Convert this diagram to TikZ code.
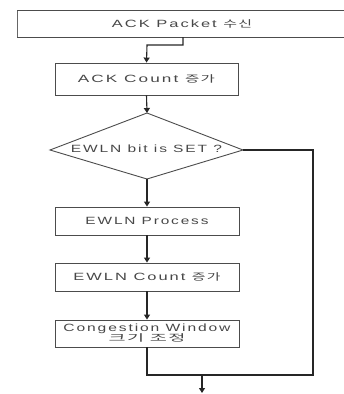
\documentclass[tikz,border=0pt]{standalone}
\usepackage{fontspec}
\usepackage{graphicx}
\setmainfont{Liberation Sans}[LetterSpace=12]
\newfontfamily\kr{Noto Sans CJK KR}[LetterSpace=8]
\newcommand\krtxt[1]{{\kr\fontsize{9.5}{11}\selectfont #1}}
\newcommand\fitw[2]{\resizebox{#1}{\height}{#2}}
\usetikzlibrary{arrows.meta}
\begin{document}
\begin{tikzpicture}[x=1pt, y=-1pt,
  every node/.style={font=\fontsize{10.5}{12}\selectfont, text=black!72},
  boxnode/.style={draw=black!70, line width=0.9pt, inner sep=0pt},
  flow/.style={draw=black!85, line width=1.1pt},
  arr/.style={flow, -{Triangle[length=5pt, width=6pt]}}]
  \useasboundingbox (0,0) rectangle (344,394);

  % top box, running past the right edge
  \draw[black!70, line width=0.9pt] (360,10) -- (17,10) -- (17,37) -- (360,37);
  \draw[black!60, line width=1.6pt] (17.6,10.5) -- (17.6,36.5);
  \node (recv) at (182,24) {\fitw{140pt}{ACK Packet \krtxt{수신}}};
  \coordinate (recvout) at (183,37);

  % process boxes
  \node[boxnode, minimum width=183pt, minimum height=32pt] (ackcnt) at (146.5,79)
    {\fitw{137pt}{ACK Count \krtxt{증가}}};
  \node[boxnode, minimum width=184pt, minimum height=28pt] (proc) at (147,221)
    {\fitw{123pt}{EWLN Process}};
  \node[boxnode, minimum width=184pt, minimum height=28pt] (ewcnt) at (147,277)
    {\fitw{147pt}{EWLN Count \krtxt{증가}}};
  \node[boxnode, minimum width=184pt, minimum height=27pt, align=center] (cwnd) at (147,333.5)
    {\fitw{167pt}{Congestion Window}\\[-2pt]\fitw{77pt}{\krtxt{크기 조정}}};

  % decision
  \coordinate (dtop) at (147,113);
  \coordinate (dbot) at (147,179);
  \coordinate (dleft) at (50,150);
  \coordinate (dright) at (243,150);
  \draw[black!70, line width=0.9pt] (dtop) -- (dright) -- (dbot) -- (dleft) -- cycle;
  \node (dec) at (146.5,149) {\fitw{151pt}{EWLN bit is SET ?}};

  % connectors
  \coordinate (bend1) at (183,45);
  \coordinate (bend2) at (147,45);
  \draw[arr] (recvout) -- (bend1) -- (bend2) -- (ackcnt.north);
  \draw[arr] (ackcnt.south) -- (dtop);
  \draw[arr] (dbot) -- (proc.north);
  \draw[arr] (proc.south) -- (ewcnt.north);
  \draw[arr] (ewcnt.south) -- (cwnd.north);

  \coordinate (joinL) at (147,375);
  \coordinate (joinR) at (313,375);
  \coordinate (sideTop) at (313,150);
  \coordinate (outTop) at (202,375);
  \coordinate (outEnd) at (202,393);
  \draw[flow] (cwnd.south) -- (joinL) -- (joinR) -- (sideTop) -- (dright);
  \draw[arr] (outTop) -- (outEnd);
\end{tikzpicture}
\end{document}
